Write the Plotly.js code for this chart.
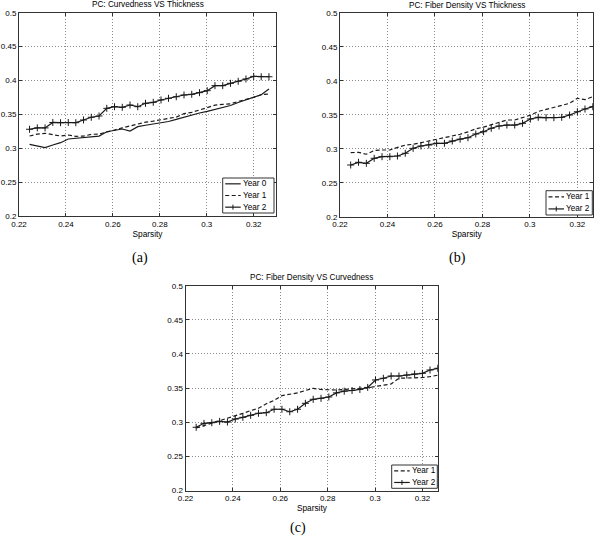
<!DOCTYPE html>
<html>
<head>
<meta charset="utf-8">
<script src="https://cdn.plot.ly/plotly-3.0.1.min.js"></script>
<style>
  html, body { margin: 0; padding: 0; background: #ffffff; }
  #chart { width: 600px; height: 540px; }
</style>
</head>
<body>
<div id="chart"></div>
<script>
// ---------------- data ----------------
const sparsity = [0.2245,0.2278,0.2311,0.2344,0.2377,0.2410,0.2442,0.2475,0.2508,0.2541,0.2574,0.2607,0.2640,0.2673,0.2706,0.2739,0.2772,0.2805,0.2837,0.2870,0.2903,0.2936,0.2969,0.3002,0.3035,0.3068,0.3101,0.3134,0.3167,0.3200,0.3232,0.3265];

// (a) PC: Curvedness VS Thickness
const aYear0 = [0.3058,0.3033,0.3008,0.3048,0.3082,0.3136,0.3147,0.3156,0.3161,0.3180,0.3244,0.3269,0.3284,0.3254,0.3318,0.3339,0.3355,0.3370,0.3395,0.3425,0.3460,0.3490,0.3520,0.3545,0.3570,0.3595,0.3630,0.3675,0.3717,0.3755,0.3790,0.3874];
const aYear1 = [0.3180,0.3209,0.3220,0.3195,0.3180,0.3195,0.3175,0.3180,0.3205,0.3210,0.3244,0.3269,0.3300,0.3330,0.3355,0.3385,0.3400,0.3417,0.3432,0.3460,0.3510,0.3530,0.3564,0.3600,0.3635,0.3648,0.3655,0.3690,0.3715,0.3750,0.3790,0.3800];
const aYear2 = [0.3280,0.3300,0.3300,0.3380,0.3377,0.3380,0.3377,0.3417,0.3457,0.3476,0.3589,0.3613,0.3604,0.3638,0.3613,0.3663,0.3678,0.3712,0.3737,0.3760,0.3786,0.3796,0.3820,0.3849,0.3923,0.3923,0.3958,0.3988,0.4022,0.4060,0.4055,0.4055];

// (b) PC: Fiber Density VS Thickness
const bYear1 = [0.2943,0.2948,0.2920,0.2975,0.2982,0.2982,0.3020,0.3055,0.3066,0.3090,0.3120,0.3140,0.3157,0.3189,0.3214,0.3250,0.3295,0.3320,0.3355,0.3390,0.3424,0.3424,0.3460,0.3495,0.3550,0.3580,0.3607,0.3635,0.3670,0.3744,0.3724,0.3768];
const bYear2 = [0.2761,0.2801,0.2786,0.2860,0.2884,0.2884,0.2894,0.2934,0.3007,0.3041,0.3056,0.3081,0.3081,0.3115,0.3142,0.3163,0.3218,0.3252,0.3302,0.3336,0.3350,0.3350,0.3375,0.3439,0.3464,0.3458,0.3458,0.3464,0.3498,0.3546,0.3586,0.3620];

// (c) PC: Fiber Density VS Curvedness
const cYear1 = [0.2915,0.2950,0.2980,0.3025,0.3050,0.3085,0.3130,0.3170,0.3205,0.3270,0.3320,0.3390,0.3410,0.3430,0.3465,0.3497,0.3480,0.3472,0.3472,0.3480,0.3490,0.3490,0.3505,0.3525,0.3545,0.3560,0.3644,0.3644,0.3644,0.3655,0.3667,0.3690];
const cYear2 = [0.2926,0.2984,0.2993,0.3013,0.3003,0.3047,0.3072,0.3101,0.3131,0.3140,0.3190,0.3190,0.3154,0.3190,0.3277,0.3336,0.3350,0.3370,0.3430,0.3455,0.3465,0.3480,0.3510,0.3619,0.3644,0.3677,0.3677,0.3692,0.3707,0.3717,0.3765,0.3790];

const yTickVals = [0.2,0.25,0.3,0.35,0.4,0.45,0.5];
const yTickText = ['0.2','0.25','0.3','0.35','0.4','0.45','0.5'];
const xTickVals = [0.22,0.24,0.26,0.28,0.3,0.32];
const xTickText = ['0.22','0.24','0.26','0.28','0.3','0.32'];
const panelTitles = ['PC: Curvedness VS Thickness','PC: Fiber Density VS Thickness','PC: Fiber Density VS Curvedness'];
const panelCaptions = ['(a)','(b)','(c)'];
const xTitle = 'Sparsity';
const seriesNames = ['Year 0','Year 1','Year 2'];

// ---------------- layout helpers ----------------
const W = 600, H = 540;
const px = v => v / W;
const py = v => 1 - v / H;
const INK = '#1a1a1a';
const FONT = 'Liberation Sans, Arial, sans-serif';

const styles = {
  'Year 0': {line: {color: INK, width: 1.2}, mode: 'lines'},
  'Year 1': {line: {color: INK, width: 1.2, dash: '4px,2.5px'}, mode: 'lines'},
  'Year 2': {line: {color: INK, width: 1.2}, mode: 'lines+markers',
             marker: {symbol: 'cross-thin', size: 5, color: INK, line: {width: 1, color: INK}}}
};

// panel boxes in page pixels
const panels = [
  {l: 19,    r: 276,   t: 12.7,  b: 216,   xmax: 0.3295,
   series: [['Year 0', aYear0], ['Year 1', aYear1], ['Year 2', aYear2]],
   legend: {l: 222.7, r: 274, t: 178, b: 213}},
  {l: 340,   r: 593.3, t: 13,    b: 216.7, xmax: 0.3267,
   series: [['Year 1', bYear1], ['Year 2', bYear2]],
   legend: {l: 546, r: 592.3, t: 190.7, b: 215}},
  {l: 185.5, r: 438.3, t: 285.7, b: 490.5, xmax: 0.3267,
   series: [['Year 1', cYear1], ['Year 2', cYear2]],
   legend: {l: 391.7, r: 437.3, t: 465, b: 488.3}}
];
const captionPos = [[140, 258], [457, 258], [298, 528]];

const data = [];
const layout = {
  width: W, height: H,
  margin: {l: 0, r: 0, t: 0, b: 0},
  paper_bgcolor: '#ffffff',
  plot_bgcolor: '#ffffff',
  showlegend: false,
  font: {family: FONT, color: '#000'},
  annotations: [],
  shapes: []
};

panels.forEach((p, i) => {
  const n = i === 0 ? '' : String(i + 1);
  const xa = 'x' + n, ya = 'y' + n;
  p.series.forEach(([name, vals]) => {
    const s = styles[name];
    const tr = {x: sparsity, y: vals, name: name, type: 'scatter', mode: s.mode,
                line: s.line, xaxis: xa, yaxis: ya, hoverinfo: 'skip'};
    if (s.marker) tr.marker = s.marker;
    data.push(tr);
  });
  const common = {
    showgrid: true, gridcolor: '#8c8c8c', griddash: '1px,2px', gridwidth: 1,
    showline: true, linecolor: '#333', linewidth: 1, mirror: 'ticks',
    ticks: 'inside', ticklen: 3, tickcolor: '#333', zeroline: false,
    tickfont: {size: 8, family: FONT, color: '#000'}, fixedrange: true
  };
  layout['xaxis' + n] = Object.assign({}, common, {
    domain: [px(p.l), px(p.r)], range: [0.22, p.xmax], anchor: ya,
    tickmode: 'array', tickvals: xTickVals, ticktext: xTickText,
    title: {text: xTitle, font: {size: 8.3, family: FONT}, standoff: 0}
  });
  layout['yaxis' + n] = Object.assign({}, common, {
    domain: [py(p.b), py(p.t)], range: [0.2, 0.5], anchor: xa,
    tickmode: 'array', tickvals: yTickVals, ticktext: yTickText
  });
  // panel title
  layout.annotations.push({
    text: panelTitles[i], xref: 'paper', yref: 'paper',
    x: px((p.l + p.r) / 2), y: py(p.t - 8), xanchor: 'center', yanchor: 'middle',
    showarrow: false, font: {size: 8.2, family: FONT, color: '#000'}
  });
  // caption
  layout.annotations.push({
    text: panelCaptions[i], xref: 'paper', yref: 'paper',
    x: px(captionPos[i][0]), y: py(captionPos[i][1]), xanchor: 'center', yanchor: 'middle',
    showarrow: false, font: {size: 14, family: 'Liberation Serif, Times New Roman, serif', color: '#000'}
  });
  // legend box
  const L = p.legend;
  layout.shapes.push({type: 'rect', xref: 'paper', yref: 'paper',
    x0: px(L.l), x1: px(L.r), y0: py(L.b), y1: py(L.t),
    line: {color: '#333', width: 1}, fillcolor: '#ffffff', layer: 'above'});
  const rowH = (L.b - L.t) / p.series.length;
  p.series.forEach(([name], k) => {
    const yc = L.t + rowH * (k + 0.5);
    const s = styles[name];
    const x0 = L.l + 2.5, x1 = L.l + 18;
    layout.shapes.push({type: 'line', xref: 'paper', yref: 'paper',
      x0: px(x0), x1: px(x1), y0: py(yc), y1: py(yc),
      line: {color: INK, width: 1.2, dash: s.line.dash || 'solid'}, layer: 'above'});
    if (s.marker) {
      const xm = (x0 + x1) / 2;
      layout.shapes.push({type: 'line', xref: 'paper', yref: 'paper',
        x0: px(xm), x1: px(xm), y0: py(yc - 2.5), y1: py(yc + 2.5),
        line: {color: INK, width: 1}, layer: 'above'});
    }
    layout.annotations.push({
      text: name, xref: 'paper', yref: 'paper',
      x: px(L.l + 18), y: py(yc), xanchor: 'left', yanchor: 'middle',
      showarrow: false, font: {size: 8.2, family: FONT, color: '#000'}
    });
  });
});

Plotly.newPlot('chart', data, layout, {staticPlot: true, displayModeBar: false});
</script>
</body>
</html>
